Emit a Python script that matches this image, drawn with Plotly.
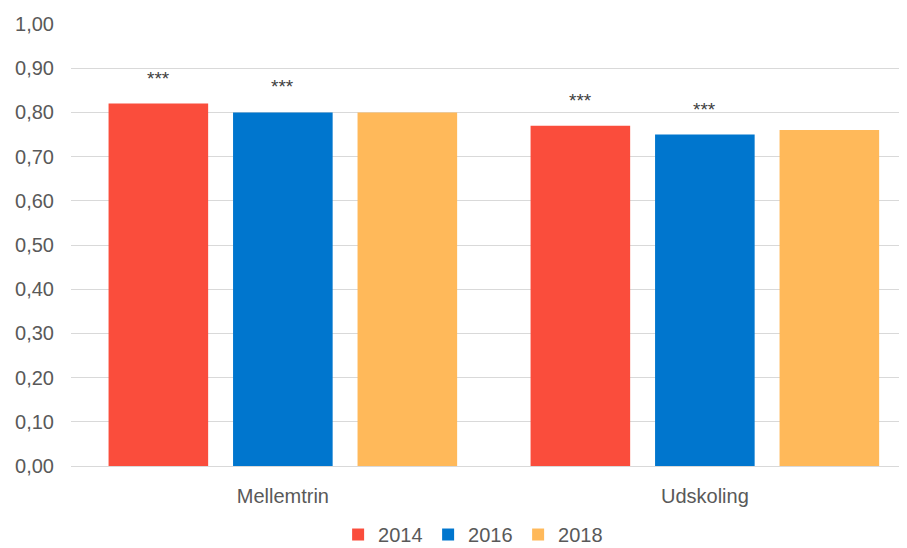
import plotly.graph_objects as go

categories = ["Mellemtrin", "Udskoling"]
years = ["2014", "2016", "2018"]
values_2014 = [0.82, 0.77]
values_2016 = [0.80, 0.75]
values_2018 = [0.80, 0.76]
significance_2014 = ["***", "***"]
significance_2016 = ["***", "***"]
significance_2018 = ["", ""]
y_ticks = [0.0, 0.1, 0.2, 0.3, 0.4, 0.5, 0.6, 0.7, 0.8, 0.9, 1.0]

series = [
    ("2014", values_2014, significance_2014, "#FA4D3C"),
    ("2016", values_2016, significance_2016, "#0076CE"),
    ("2018", values_2018, significance_2018, "#FFB95A"),
]

FONT = "Liberation Sans, Arial, sans-serif"
fig = go.Figure()
for name, vals, sig, color in series:
    fig.add_trace(go.Bar(
        x=categories, y=vals, name=name,
        marker=dict(color=color, line=dict(width=0)),
        hoverinfo="x+y+name",
    ))

slot_px = 124.5
for i, (name, vals, sig, color) in enumerate(series):
    for cat, v, s in zip(categories, vals, sig):
        if s:
            fig.add_annotation(
                x=cat, y=v, xref="x", yref="y", text=s, showarrow=False,
                xshift=(i - 1) * slot_px, yshift=13, yanchor="bottom",
                font=dict(family=FONT, size=19, color="#404040"),
            )

# page body has an 8px default margin, so the figure is sized to fit the window
fig.update_layout(
    width=899, height=540,
    margin=dict(l=63, r=0, t=16, b=82, autoexpand=False),
    paper_bgcolor="white", plot_bgcolor="white",
    barmode="group", bargap=0.115, bargroupgap=0.2,
    separators=", ",
    font=dict(family=FONT, size=20, color="#595959"),
    showlegend=True,
    legend=dict(orientation="h", x=0.481, xanchor="center", y=-0.155, yanchor="middle",
                font=dict(family=FONT, size=20, color="#595959"),
                itemwidth=30, tracegroupgap=0, entrywidth=45, entrywidthmode="pixels"),
)
fig.update_xaxes(
    type="category", range=[-0.502, 1.479], automargin=False,
    showgrid=False, showline=True, linecolor="#D9D9D9", linewidth=1,
    ticks="", ticklabelstandoff=12,
    tickfont=dict(family=FONT, size=20, color="#595959"),
)
fig.update_yaxes(
    range=[0, 1.0], tickvals=y_ticks, tickformat=".2f", automargin=False,
    showgrid=True, gridcolor="#D9D9D9", gridwidth=1,
    zeroline=True, zerolinecolor="#D9D9D9", zerolinewidth=1,
    showline=False, ticks="", ticklabelstandoff=16,
    tickfont=dict(family=FONT, size=20, color="#595959"),
)

fig.write_html("out.html")
